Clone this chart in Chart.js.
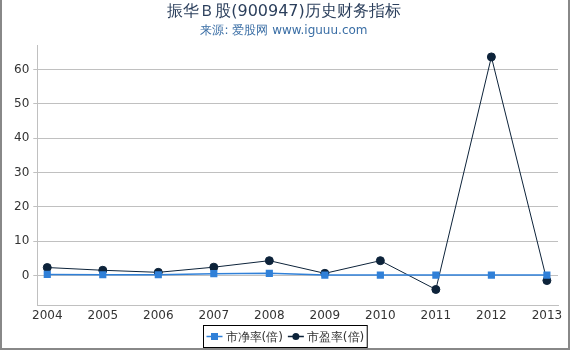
<!DOCTYPE html>
<html>
<head>
<meta charset="utf-8">
<script src="https://cdn.jsdelivr.net/npm/chart.js@4"></script>
<style>
  html, body { margin: 0; padding: 0; background: #fff; }
  #wrap { width: 566px; height: 348px; border-left: 2px solid #888; border-right: 2px solid #888; border-bottom: 2px solid #888; }
</style>
</head>
<body>
<div id="wrap"><canvas id="chart" width="566" height="348"></canvas></div>
<script>
// 年份与指标
const years = [2004, 2005, 2006, 2007, 2008, 2009, 2010, 2011, 2012, 2013];
const pbRatio = [0.3, 0.2, 0.2, 0.5, 0.6, 0.1, 0.1, 0.1, 0.1, 0.1];   // 市净率(倍)
const peRatio = [2.3, 1.5, 0.9, 2.4, 4.3, 0.6, 4.3, -4.1, 63.7, -1.5]; // 市盈率(倍)
const yTicks = [0, 10, 20, 30, 40, 50, 60];

const PB_COLOR = "#3080d8";
const PE_COLOR = "#0d233a";
const FONT = "'DejaVu Sans', sans-serif";

// bottom legend with a black frame
const boxLegend = {
  id: "boxLegend",
  afterDraw(chart) {
    const c = chart.ctx;
    const items = [
      { text: "市净率(倍)", color: PB_COLOR, style: "rect" },
      { text: "市盈率(倍)", color: PE_COLOR, style: "circle" }
    ];
    c.save();
    c.font = "12px " + FONT;
    const lineW = 16, gap = 3, itemGap = 5;
    let total = 0;
    items.forEach(it => { it.w = lineW + gap + c.measureText(it.text).width; total += it.w; });
    total += itemGap * (items.length - 1);
    const padX = 3, h = 22;
    const boxW = total + padX * 2;
    const x0 = Math.round(chart.width / 2 - boxW / 2) + 0.5;
    const y0 = 325.5;
    c.strokeStyle = "#000";
    c.lineWidth = 1;
    c.strokeRect(x0, y0, boxW, h);
    let x = x0 + padX;
    const cy = y0 + h / 2;
    items.forEach(it => {
      c.strokeStyle = it.color;
      c.fillStyle = it.color;
      c.lineWidth = 1.5;
      c.beginPath(); c.moveTo(x, cy); c.lineTo(x + lineW, cy); c.stroke();
      if (it.style === "rect") {
        c.fillRect(x + lineW / 2 - 3.5, cy - 3.5, 7, 7);
      } else {
        c.beginPath(); c.arc(x + lineW / 2, cy, 3.5, 0, Math.PI * 2); c.fill();
      }
      c.fillStyle = "#333";
      c.textBaseline = "middle";
      c.fillText(it.text, x + lineW + gap, cy + 1);
      x += it.w + itemGap;
    });
    c.restore();
  }
};

const ctx = document.getElementById("chart").getContext("2d");
const chart = new Chart(ctx, {
  type: "line",
  data: {
    datasets: [
      {
        label: "市净率(倍)",
        data: years.map((y, i) => ({ x: y, y: pbRatio[i] })),
        borderColor: PB_COLOR, backgroundColor: PB_COLOR,
        borderWidth: 1.5, pointStyle: "rect", pointRadius: 4, tension: 0, order: 1
      },
      {
        label: "市盈率(倍)",
        data: years.map((y, i) => ({ x: y, y: peRatio[i] })),
        borderColor: PE_COLOR, backgroundColor: PE_COLOR,
        borderWidth: 1, pointStyle: "circle", pointRadius: 4, tension: 0, order: 2
      }
    ]
  },
  options: {
    animation: false,
    responsive: false,
    layout: { padding: { left: 8, right: 10, top: 0, bottom: 22 } },
    plugins: {
      legend: { display: false },
      tooltip: { enabled: false },
      title: {
        display: true,
        text: "振华Ｂ股(900947)历史财务指标",
        color: "#2b3f5c",
        font: { family: FONT, size: 16, weight: "normal" },
        padding: { top: 2, bottom: 2 }
      },
      subtitle: {
        display: true,
        text: "来源: 爱股网 www.iguuu.com",
        color: "#3a6ea5",
        font: { family: FONT, size: 12 },
        padding: { bottom: 8 }
      }
    },
    scales: {
      x: {
        type: "linear",
        min: 2003.82, max: 2013.2,
        afterBuildTicks: axis => { axis.ticks = years.map(v => ({ value: v })); },
        grid: { display: false, drawTicks: false },
        border: { color: "#c0c0c0" },
        ticks: { color: "#333", font: { family: FONT, size: 12 }, callback: v => String(v), maxRotation: 0, padding: 3 }
      },
      y: {
        min: -8.8, max: 67,
        afterBuildTicks: axis => { axis.ticks = yTicks.map(v => ({ value: v })); },
        grid: { color: "#c0c0c0", tickLength: 4, tickColor: "#c0c0c0" },
        border: { color: "#c0c0c0" },
        ticks: { color: "#333", font: { family: FONT, size: 12 }, padding: 4 }
      }
    }
  },
  plugins: [boxLegend]
});
</script>
</body>
</html>
